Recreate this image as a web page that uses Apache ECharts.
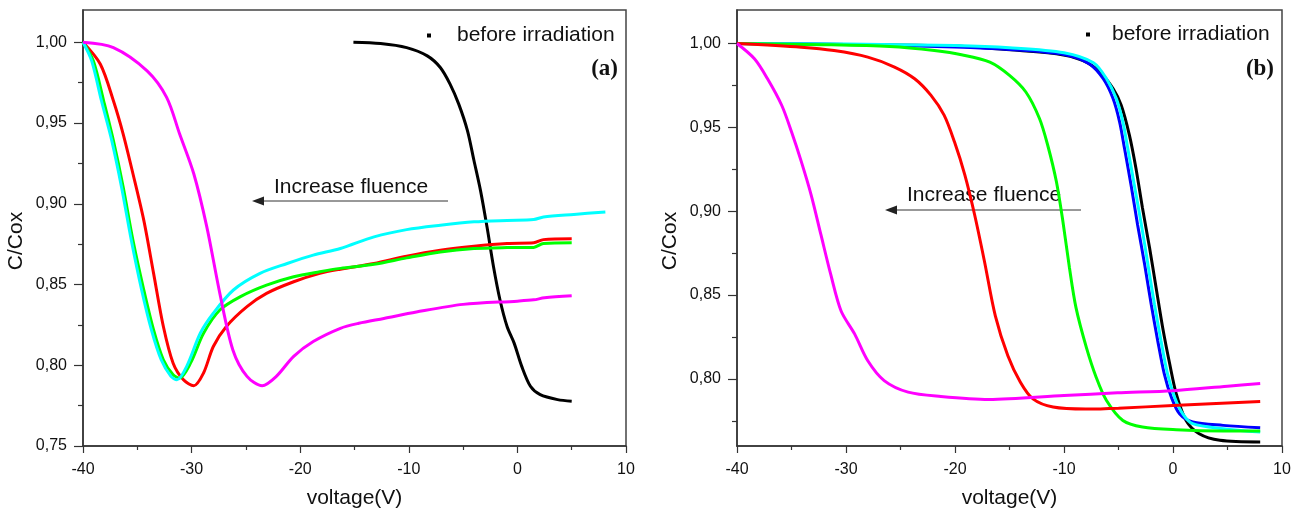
<!DOCTYPE html>
<html>
<head>
<meta charset="utf-8">
<script src="https://cdn.jsdelivr.net/npm/echarts@6/dist/echarts.min.js"></script>
<style>
  html, body { margin: 0; padding: 0; background: #fff; }
  #chart { width: 1301px; height: 514px; }
</style>
</head>
<body>
<div id="chart"></div>
<script>
// panel (a): [voltage, C/Cox]
const aBlack = [[-15.1,1.000],[-12.6,0.9992],[-10.2,0.9967],[-8.3,0.9916],[-7.1,0.9844],[-6.2,0.9741],[-5.4,0.9617],[-4.6,0.9453],[-4.0,0.9268],[-3.4,0.9083],[-2.8,0.8857],[-2.2,0.861],[-1.6,0.8404],[-0.95,0.824],[-0.3,0.8137],[0.4,0.7993],[1.2,0.787],[2.1,0.7818],[3.7,0.7787],[5.0,0.7777]];
const aMagenta = [[-40,1.0],[-37.2,0.9967],[-34.1,0.9823],[-32.3,0.9659],[-31.1,0.9432],[-29.8,0.9186],[-28.6,0.8857],[-27.4,0.8445],[-26.2,0.8095],[-24.9,0.7931],[-23.5,0.7873],[-22.2,0.7931],[-20.6,0.8055],[-18.8,0.8147],[-16.3,0.8229],[-14.6,0.826],[-12.3,0.829],[-9.3,0.833],[-5,0.8377],[0,0.8397],[1.5,0.8405],[2.5,0.8418],[5,0.843]];
const aRed = [[-40,1.0],[-38.4,0.9864],[-37.2,0.9638],[-36.3,0.9432],[-35.4,0.9186],[-34.4,0.8897],[-33.5,0.8569],[-32.6,0.824],[-31.7,0.8013],[-30.75,0.791],[-29.8,0.7873],[-28.9,0.7952],[-28.0,0.8116],[-26.8,0.824],[-24.9,0.8363],[-23.1,0.8445],[-20.6,0.8517],[-18.2,0.8569],[-16.3,0.8595],[-13.2,0.863],[-10.2,0.8675],[-7.1,0.8712],[-4.0,0.8737],[-0.95,0.8754],[1.5,0.8758],[2.4,0.8778],[5,0.8784]];
const aGreen = [[-40,1.0],[-39.05,0.9885],[-38.1,0.9638],[-37.2,0.9391],[-36.3,0.9103],[-35.4,0.8774],[-34.4,0.8466],[-33.5,0.8219],[-32.6,0.8034],[-31.7,0.7941],[-31.1,0.7921],[-30.1,0.8013],[-28.9,0.8198],[-27.4,0.8342],[-25.5,0.8425],[-23.1,0.8496],[-20.6,0.8548],[-18.2,0.8579],[-16.3,0.86],[-13.2,0.8625],[-10.2,0.8665],[-7.1,0.8702],[-4.0,0.8723],[-0.95,0.8729],[1.5,0.873],[2.4,0.8754],[5,0.8758]];
const aCyan = [[-40,1.0],[-39.2,0.9885],[-38.3,0.9638],[-37.35,0.9391],[-36.45,0.9103],[-35.55,0.8774],[-34.6,0.8466],[-33.7,0.8219],[-32.8,0.8034],[-31.9,0.7931],[-31.35,0.791],[-30.45,0.7993],[-29.2,0.8198],[-28.0,0.8322],[-26.15,0.8466],[-23.7,0.8569],[-21.2,0.863],[-18.8,0.8682],[-16.3,0.8723],[-13.2,0.8795],[-10.2,0.884],[-7.1,0.8867],[-4.0,0.8888],[-0.95,0.8897],[1.5,0.8902],[2.4,0.8918],[5.2,0.8934],[8.1,0.8949]];

// panel (b)
const bBlack = [[-40,1.0],[-30,0.9995],[-20,0.9985],[-16.8,0.9972],[-10.7,0.9939],[-8.3,0.9899],[-6.7,0.983],[-5.5,0.9731],[-4.75,0.9632],[-4.0,0.9454],[-3.4,0.9256],[-2.8,0.9019],[-2.15,0.8782],[-1.55,0.8544],[-0.95,0.8307],[-0.3,0.8089],[0.3,0.7911],[1.2,0.7752],[2.4,0.7673],[4.3,0.7634],[8.0,0.7624]];
const bBlue = [[-40,1.0],[-30,0.9995],[-20,0.998],[-15,0.9965],[-10,0.9935],[-7.7,0.988],[-6.4,0.979],[-5.5,0.9672],[-4.9,0.9533],[-4.45,0.9375],[-3.85,0.9157],[-3.25,0.892],[-2.6,0.8682],[-2.0,0.8445],[-1.4,0.8227],[-0.8,0.803],[-0.15,0.7891],[0.6,0.7792],[1.8,0.7743],[4.6,0.7723],[8,0.7709]];
const bCyan = [[-40,1.0],[-30,0.9997],[-20,0.9988],[-15,0.9975],[-10,0.9945],[-7.3,0.9885],[-6.1,0.979],[-5.2,0.9672],[-4.6,0.9533],[-4.15,0.9375],[-3.55,0.9157],[-2.9,0.892],[-2.3,0.8682],[-1.7,0.8445],[-1.1,0.8227],[-0.5,0.803],[0.15,0.7891],[0.9,0.7792],[1.8,0.7733],[4.6,0.7703],[8,0.7683]];
const bGreen = [[-40,1.0],[-32,0.9993],[-26,0.9982],[-21.9,0.9958],[-19.3,0.9932],[-16.8,0.9889],[-15.0,0.981],[-13.5,0.9711],[-12.25,0.9553],[-11.5,0.9395],[-10.7,0.9177],[-10.1,0.8939],[-9.5,0.8663],[-8.9,0.8425],[-7.95,0.8188],[-7.05,0.801],[-6.1,0.7871],[-4.6,0.7752],[-2.8,0.7713],[0.3,0.7697],[4.6,0.769],[8,0.769]];
const bRed = [[-40,1.0],[-34.1,0.9978],[-31.1,0.9958],[-28,0.9919],[-25.55,0.986],[-23.7,0.979],[-22.2,0.9691],[-21.0,0.9573],[-20.05,0.9414],[-19.1,0.9217],[-18.2,0.8979],[-17.3,0.8702],[-16.3,0.8376],[-15.15,0.8138],[-14.0,0.798],[-12.85,0.7881],[-11,0.7832],[-8,0.782],[-5,0.7825],[0,0.7842],[8,0.7865]];
const bMagenta = [[-40,1.0],[-38.4,0.9909],[-37.2,0.979],[-35.9,0.9632],[-35.0,0.9474],[-34.1,0.9296],[-33.2,0.9098],[-32.3,0.886],[-31.4,0.8623],[-30.45,0.8405],[-29.2,0.8267],[-28.0,0.8108],[-26.5,0.799],[-24.3,0.7921],[-21.3,0.7895],[-16.9,0.7877],[-10,0.7901],[-5.1,0.7917],[0,0.793],[5,0.7957],[8,0.7972]];

// tick values
const aYTicks = [0.75, 0.80, 0.85, 0.90, 0.95, 1.00];
const bYTicks = [0.80, 0.85, 0.90, 0.95, 1.00];
const yMinorTicks = [0.775, 0.825, 0.875, 0.925, 0.975];

const legendName = 'before irradiation';
const xTicks = { min: -40, max: 10, interval: 10 };

const chart = echarts.init(document.getElementById('chart'));
const font = '"Liberation Sans", Arial, sans-serif';

function xAxisFor(gridIndex) {
    return {
        type: 'value', gridIndex: gridIndex,
        min: xTicks.min, max: xTicks.max, interval: xTicks.interval,
        name: 'voltage(V)', nameLocation: 'middle', nameGap: 42,
        nameTextStyle: { fontFamily: font, fontSize: 21, color: '#111' },
        axisLine: { show: true, onZero: false, lineStyle: { color: '#333', width: 1.5 } },
        axisTick: { show: true, length: 7, lineStyle: { color: '#333', width: 1.2 } },
        minorTick: { show: true, splitNumber: 2, length: 4, lineStyle: { color: '#333', width: 1.2 } },
        axisLabel: { fontFamily: font, fontSize: 16, color: '#111', margin: 16 },
        splitLine: { show: false }
    };
}

function yAxisFor(gridIndex, min, max, ticks) {
    return {
        type: 'value', gridIndex: gridIndex, min: min, max: max, position: 'left',
        name: 'C/Cox', nameLocation: 'middle', nameGap: 56,
        nameTextStyle: { fontFamily: font, fontSize: 21, color: '#111', padding: [0, 26, 0, 0] },
        axisLine: { show: true, onZero: false, lineStyle: { color: '#333', width: 1.5 } },
        axisTick: { show: true, length: 9, customValues: ticks, lineStyle: { color: '#333', width: 1.2 } },
        axisLabel: {
            fontFamily: font, fontSize: 16, color: '#111', margin: 16, customValues: ticks,
            formatter: v => v.toFixed(2).replace('.', ',')
        },
        splitLine: { show: false }
    };
}

// second y axis on the same grid, only for the minor ticks
function yMinorFor(gridIndex, min, max) {
    return {
        type: 'value', gridIndex: gridIndex, min: min, max: max, position: 'left', offset: 0,
        axisLine: { show: false, onZero: false },
        axisTick: { show: true, length: 5, customValues: yMinorTicks, lineStyle: { color: '#333', width: 1.2 } },
        axisLabel: { show: false },
        splitLine: { show: false }
    };
}

function curve(name, data, color, idx, z) {
    return {
        name: name, type: 'line', data: data,
        xAxisIndex: idx, yAxisIndex: idx,
        showSymbol: false, smooth: 0.3,
        lineStyle: { color: color, width: 3 }, itemStyle: { color: color },
        z: z
    };
}

function arrow(x1, x2, y) {
    return {
        type: 'group', children: [
            { type: 'line', shape: { x1: x1 + 10, y1: y, x2: x2, y2: y }, style: { stroke: '#333', lineWidth: 1 } },
            { type: 'polygon', shape: { points: [[x1, y], [x1 + 12, y - 4.5], [x1 + 12, y + 4.5]] }, style: { fill: '#222' } }
        ]
    };
}

const option = {
    animation: false,
    backgroundColor: '#fff',
    grid: [
        { left: 83, top: 10, width: 543, height: 438, show: true, borderColor: '#444', borderWidth: 1.5, backgroundColor: 'transparent' },
        { left: 737, top: 10, width: 545, height: 438, show: true, borderColor: '#444', borderWidth: 1.5, backgroundColor: 'transparent' }
    ],
    legend: [
        { data: [legendName], left: 422, top: 20, icon: 'rect', itemWidth: 4, itemHeight: 4,
          textStyle: { fontFamily: font, fontSize: 21, color: '#111', padding: [0, 0, 0, 21] } },
        { data: [legendName], left: 1081, top: 19, icon: 'rect', itemWidth: 4, itemHeight: 4,
          textStyle: { fontFamily: font, fontSize: 21, color: '#111', padding: [0, 0, 0, 17] } }
    ],
    xAxis: [xAxisFor(0), xAxisFor(1)],
    yAxis: [
        yAxisFor(0, 0.75, 1.02, aYTicks),
        yAxisFor(1, 0.76, 1.02, bYTicks),
        yMinorFor(0, 0.75, 1.02),
        yMinorFor(1, 0.76, 1.02)
    ],
    series: [
        curve(legendName, aBlack, '#000000', 0, 2),
        curve('a-red', aRed, '#ff0000', 0, 3),
        curve('a-green', aGreen, '#00ff00', 0, 4),
        curve('a-cyan', aCyan, '#00ffff', 0, 5),
        curve('a-magenta', aMagenta, '#ff00ff', 0, 6),
        curve(legendName, bBlack, '#000000', 1, 2),
        curve('b-blue', bBlue, '#0000ff', 1, 3),
        curve('b-cyan', bCyan, '#00ffff', 1, 4),
        curve('b-green', bGreen, '#00ff00', 1, 5),
        curve('b-red', bRed, '#ff0000', 1, 6),
        curve('b-magenta', bMagenta, '#ff00ff', 1, 7)
    ],
    graphic: [
        { type: 'text', left: 274, top: 177, style: { text: 'Increase fluence', font: '21px ' + font, fill: '#111' } },
        arrow(252, 448, 201),
        { type: 'text', left: 907, top: 185, style: { text: 'Increase fluence', font: '21px ' + font, fill: '#111' } },
        arrow(885, 1081, 210),
        { type: 'text', right: 1301 - 618, top: 58, style: { text: '(a)', font: 'bold 23px "Liberation Serif", serif', fill: '#111' } },
        { type: 'text', right: 1301 - 1274, top: 58, style: { text: '(b)', font: 'bold 23px "Liberation Serif", serif', fill: '#111' } }
    ]
};

chart.setOption(option);
</script>
</body>
</html>
